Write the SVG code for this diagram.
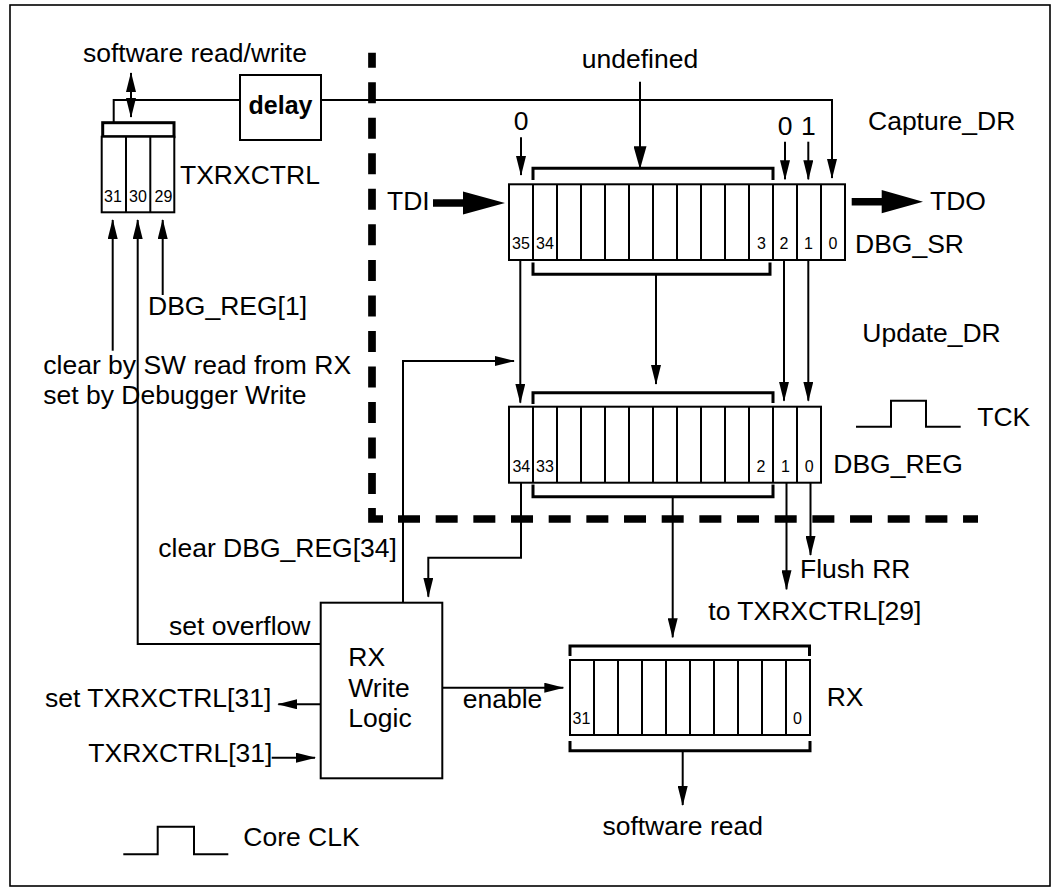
<svg xmlns="http://www.w3.org/2000/svg" width="1061" height="893" viewBox="0 0 1061 893">
<style>
text{font-family:"Liberation Sans",Arial,Helvetica,sans-serif;fill:#000}
.t{font-size:26.5px}
.n{font-size:16px;text-anchor:middle}
.m{text-anchor:middle}
.b{font-weight:bold;font-size:25px}
.reg{fill:#fff;stroke:#000;stroke-width:2}
.dv{stroke:#000;stroke-width:2}
.br{fill:none;stroke:#000;stroke-width:3}
.c{fill:none;stroke:#000;stroke-width:2}
.ca{fill:none;stroke:#000;stroke-width:2;marker-end:url(#a)}
.dash{fill:none;stroke:#000;stroke-width:7.7}
</style>
<defs>
<marker id="a" viewBox="0 0 20 10" refX="19" refY="5" markerWidth="20" markerHeight="10" markerUnits="userSpaceOnUse" orient="auto-start-reverse"><path d="M0,0 L20,5 L0,10 z"/></marker>
<marker id="ab" viewBox="0 0 23 13" refX="22" refY="6.5" markerWidth="23" markerHeight="13" markerUnits="userSpaceOnUse" orient="auto"><path d="M0,0 L23,6.5 L0,13 z"/></marker>
</defs>
<rect x="10" y="5" width="1040" height="881" fill="#fff" stroke="#000" stroke-width="1.6"/>

<g id="boundary">
<line class="dash" x1="372" y1="52.7" x2="372" y2="508" stroke-dasharray="21 14.53" stroke-dashoffset="6"/>
<path class="dash" d="M372,508 V519 H383"/>
<line class="dash" x1="398" y1="519" x2="978" y2="519" stroke-dasharray="22 15.67"/>
</g>

<g id="connectors">
<line class="c" x1="131" y1="73" x2="131" y2="117" marker-start="url(#a)" marker-end="url(#a)"/>
<path class="c" d="M113.7,122 V100 H240"/>
<path class="ca" d="M321,100 H832 V178"/>
<line class="c" x1="640" y1="81.7" x2="640" y2="168.3" marker-end="url(#ab)"/>
<line class="ca" x1="521" y1="137.3" x2="521" y2="175"/>
<line class="ca" x1="785" y1="141.7" x2="785" y2="179.3"/>
<line class="ca" x1="808.3" y1="141.7" x2="808.3" y2="179.3"/>
<polygon points="433,199.3 463,199.3 463,191.5 505,203 463,214.5 463,206.7 433,206.7"/>
<polygon points="851.7,198 881.7,198 881.7,190 923,201.7 881.7,213.3 881.7,205.5 851.7,205.5"/>
<line class="ca" x1="520.3" y1="260" x2="520.3" y2="402.7"/>
<line class="ca" x1="656" y1="274.3" x2="656" y2="384"/>
<line class="ca" x1="784" y1="260" x2="784" y2="400.7"/>
<line class="ca" x1="808.3" y1="260" x2="808.3" y2="400.7"/>
<line class="ca" x1="672.7" y1="496.7" x2="672.7" y2="637.3"/>
<line class="ca" x1="786.5" y1="482.7" x2="786.5" y2="589.3"/>
<line class="ca" x1="810.5" y1="482.7" x2="810.5" y2="555"/>
<path class="ca" d="M521,482.7 V557.7 H428.3 V596.7"/>
<path class="ca" d="M403,602.7 V361 H514"/>
<line class="ca" x1="112.7" y1="350.7" x2="112.7" y2="220"/>
<path class="ca" d="M320.7,644 H137.7 V220"/>
<line class="ca" x1="162.7" y1="295" x2="162.7" y2="220"/>
<line class="ca" x1="320.7" y1="704.3" x2="278.3" y2="704.3"/>
<line class="ca" x1="271.7" y1="757.7" x2="315" y2="757.7"/>
<line class="ca" x1="442.3" y1="687.7" x2="563.3" y2="687.7"/>
<line class="ca" x1="682.7" y1="750.7" x2="682.7" y2="805"/>
</g>

<g id="delay">
<rect x="240" y="75" width="81" height="65" class="reg"/>
<text class="b m" x="280.5" y="114">delay</text>
</g>

<g id="txrxctrl">
<rect x="102.7" y="122.7" width="71.3" height="14" class="br"/>
<rect x="101.7" y="136.7" width="72.6" height="75.6" class="reg"/>
<line class="dv" x1="126" y1="136.7" x2="126" y2="212.3"/>
<line class="dv" x1="150.3" y1="136.7" x2="150.3" y2="212.3"/>
<text class="n" x="113" y="201.7">31</text>
<text class="n" x="138" y="201.7">30</text>
<text class="n" x="163.5" y="201.7">29</text>
<text class="t" x="180" y="184">TXRXCTRL</text>
</g>

<g id="dbg_sr">
<path class="br" d="M533,180 V168.3 H773 V180"/>
<rect x="509" y="184.3" width="336" height="75.7" class="reg"/>
<path class="dv" d="M533,184.3V260M557,184.3V260M581,184.3V260M605,184.3V260M629,184.3V260M653,184.3V260M677,184.3V260M701,184.3V260M725,184.3V260M749,184.3V260M773,184.3V260M797,184.3V260M821,184.3V260"/>
<path class="br" d="M533,262.5 V274.3 H770 V262.5"/>
<text class="n" x="521" y="249.3">35</text>
<text class="n" x="545" y="249.3">34</text>
<text class="n" x="761.5" y="249.3">3</text>
<text class="n" x="784" y="249.3">2</text>
<text class="n" x="808.5" y="249.3">1</text>
<text class="n" x="833" y="249.3">0</text>
<text class="t" x="855" y="252.7">DBG_SR</text>
</g>

<g id="dbg_reg">
<path class="br" d="M533,404 V392.7 H773 V403"/>
<rect x="509" y="406.7" width="312" height="76" class="reg"/>
<path class="dv" d="M533,406.7V482.7M557,406.7V482.7M581,406.7V482.7M605,406.7V482.7M629,406.7V482.7M653,406.7V482.7M677,406.7V482.7M701,406.7V482.7M725,406.7V482.7M749,406.7V482.7M773,406.7V482.7M797,406.7V482.7"/>
<path class="br" d="M533,484.5 V496.7 H773 V484.5"/>
<text class="n" x="521.3" y="471.7">34</text>
<text class="n" x="545" y="471.7">33</text>
<text class="n" x="761" y="471.7">2</text>
<text class="n" x="785.5" y="471.7">1</text>
<text class="n" x="809.3" y="471.7">0</text>
<text class="t" x="833.3" y="472.7">DBG_REG</text>
</g>

<g id="rx">
<path class="br" d="M570,656 V646 H809.5 V656"/>
<rect x="570" y="660" width="240" height="75" class="reg"/>
<path class="dv" d="M594,660V735M618,660V735M642,660V735M666,660V735M690,660V735M714,660V735M738,660V735M762,660V735M786,660V735"/>
<path class="br" d="M570,741 V750.7 H810 V741"/>
<text class="n" x="581.5" y="724">31</text>
<text class="n" x="797.5" y="724">0</text>
<text class="t" x="826.7" y="705.7">RX</text>
</g>

<g id="rx_write_logic">
<rect x="320.7" y="602.7" width="121.6" height="175.6" class="reg"/>
<text class="t" x="348.3" y="665.7">RX</text>
<text class="t" x="348.3" y="696.7">Write</text>
<text class="t" x="348.3" y="727.3">Logic</text>
</g>

<g id="tck">
<path class="c" d="M856,426.7 H891 V400.7 H926 V426.7 H960.7"/>
<text class="t" x="977.3" y="425.7">TCK</text>
</g>

<g id="core_clk">
<path class="c" d="M123.3,854.3 H157.7 V826.7 H194 V854.3 H228.3"/>
<text class="t" x="243.3" y="846">Core CLK</text>
</g>

<g id="labels">
<text class="t" x="83" y="62">software read/write</text>
<text class="t m" x="640" y="68.3">undefined</text>
<text class="t m" x="521" y="129.5">0</text>
<text class="t m" x="785" y="135">0</text>
<text class="t m" x="808.3" y="135">1</text>
<text class="t" x="868" y="130">Capture_DR</text>
<text class="t" x="387" y="210">TDI</text>
<text class="t" x="930" y="210">TDO</text>
<text class="t" x="148" y="315">DBG_REG[1]</text>
<text class="t" x="43.3" y="374">clear by SW read from RX</text>
<text class="t" x="43.3" y="404">set by Debugger Write</text>
<text class="t" x="862.3" y="342.3">Update_DR</text>
<text class="t" x="158.3" y="556.7">clear DBG_REG[34]</text>
<text class="t" x="169" y="635">set overflow</text>
<text class="t" x="45" y="706.5">set TXRXCTRL[31]</text>
<text class="t" x="88.3" y="761.7">TXRXCTRL[31]</text>
<text class="t" x="462.7" y="708.3">enable</text>
<text class="t" x="800" y="578.3">Flush RR</text>
<text class="t" x="708.3" y="620">to TXRXCTRL[29]</text>
<text class="t m" x="682.7" y="835">software read</text>
</g>
</svg>
